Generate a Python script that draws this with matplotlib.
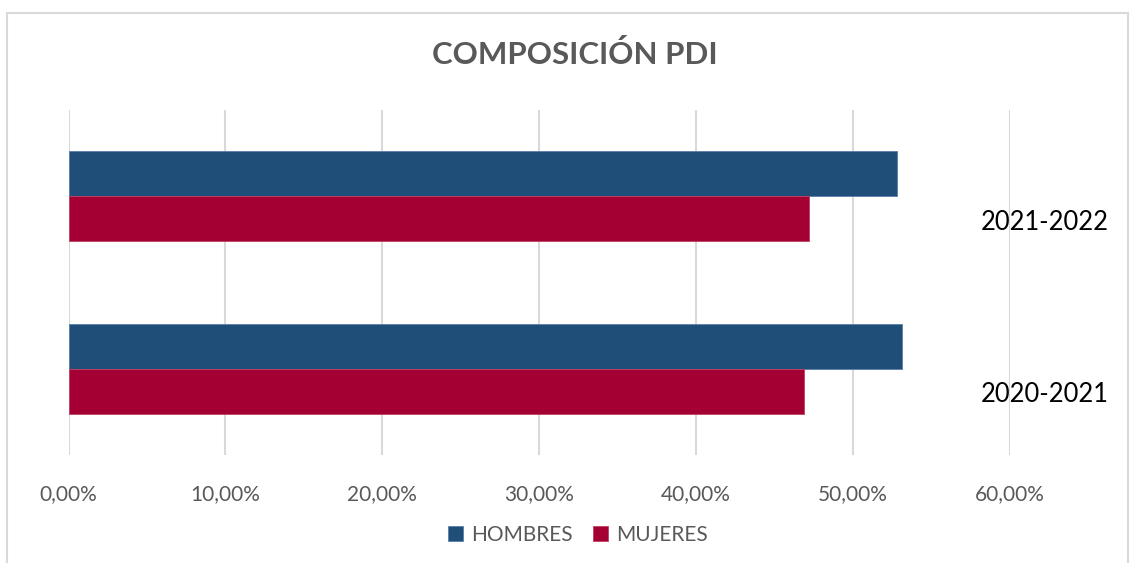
import matplotlib
matplotlib.use("Agg")
import matplotlib.pyplot as plt
from matplotlib.patches import Rectangle
import matplotlib.transforms as mtransforms

categories = ["2020-2021", "2021-2022"]
hombres = [53.1, 52.8]
mujeres = [46.9, 47.2]
series_names = ["HOMBRES", "MUJERES"]
xticks = [0, 10, 20, 30, 40, 50, 60]
xtick_labels = ["0,00%", "10,00%", "20,00%", "30,00%", "40,00%", "50,00%", "60,00%"]
title = "COMPOSICIÓN PDI"

W, H = 1131, 563
fig = plt.figure(figsize=(W / 100, H / 100), dpi=100)
plt.rcParams['font.family'] = ['Lato', 'DejaVu Sans']

# outer border
fig.patches.append(Rectangle((7 / W, -0.05), (1128 - 7) / W, (H - 13) / H + 0.05,
                             transform=fig.transFigure, fill=False,
                             edgecolor="#D9D9D9", linewidth=1.5))

left, right = 68.5 / W, 1010 / W
bottom, top = (H - 455) / H, (H - 110) / H
ax = fig.add_axes([left, bottom, right - left, top - bottom])

blue = "#1F4E79"
red = "#A50034"
h = 0.26
ys = list(range(len(categories)))
ax.barh([y + h / 2 for y in ys], hombres, height=h, color=blue,
        edgecolor="#5a7fa8", linewidth=0.6, label=series_names[0], zorder=2)
ax.barh([y - h / 2 for y in ys], mujeres, height=h, color=red,
        edgecolor="#c04060", linewidth=0.6, label=series_names[1], zorder=2)

ax.set_xlim(0, 60)
ax.set_ylim(-0.5, 1.5)
ax.set_xticks(xticks)
ax.set_xticklabels(xtick_labels, color="#595959", fontsize=15)
ax.tick_params(axis="x", length=0, pad=21)
ax.set_yticks([])
for s in ax.spines.values():
    s.set_visible(False)
ax.grid(axis="x", color="#D9D9D9", linewidth=1.5, zorder=1)
ax.set_axisbelow(True)

trans = mtransforms.blended_transform_factory(ax.transAxes, ax.transData)
for y, c in zip(ys, categories):
    ax.text(1.037, y - 0.15, c, transform=trans, ha="center", va="center",
            fontsize=18.4, color="black")

fig.text(575 / W, 1 - 55 / H, title, ha="center", va="center",
         fontsize=22.5, fontweight="bold", color="#595959")

leg = fig.legend(loc="center", bbox_to_anchor=(578 / W, 1 - 535 / H), ncol=2,
                 frameon=False, fontsize=15, handlelength=0.7, handleheight=0.7,
                 handletextpad=0.4, columnspacing=1.0)
for t in leg.get_texts():
    t.set_color("#595959")

fig.savefig("out.png", dpi=100)
